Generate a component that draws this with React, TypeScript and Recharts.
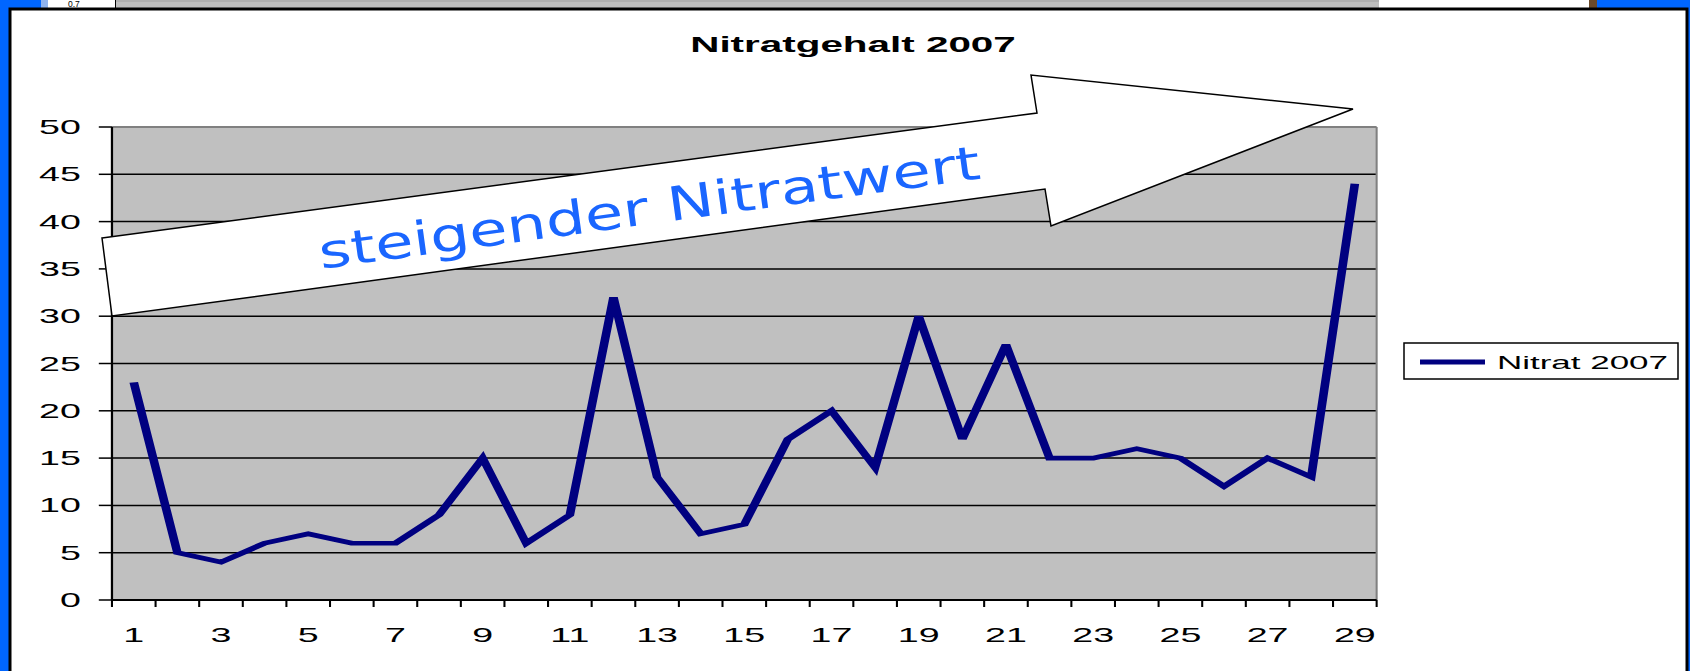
import React from 'react';
import { LineChart, Line, XAxis, YAxis, CartesianGrid, ReferenceLine } from 'recharts';

// ---- data ----
const messpunkte = [1, 2, 3, 4, 5, 6, 7, 8, 9, 10, 11, 12, 13, 14, 15, 16, 17, 18, 19, 20, 21, 22, 23, 24, 25, 26, 27, 28, 29];
const nitrat2007 = [23, 5, 4, 6, 7, 6, 6, 9, 15, 6, 9, 32, 13, 7, 8, 17, 20, 14, 30, 17, 27, 15, 15, 16, 15, 12, 15, 13, 44];
const yTicks = [0, 5, 10, 15, 20, 25, 30, 35, 40, 45, 50];
const gridValues = [5, 10, 15, 20, 25, 30, 35, 40, 45];
const xLabelTicks = [1, 3, 5, 7, 9, 11, 13, 15, 17, 19, 21, 23, 25, 27, 29];
const seriesName = 'Nitrat 2007';
const chartTitle = 'Nitratgehalt 2007';
const arrowText = 'steigender Nitratwert';
const topStripLabel = '0.7';

const data = messpunkte.map((m, i) => ({ m, nitrat: nitrat2007[i] }));
// category boundaries (Excel puts tick marks between categories)
const xTickMarks = [...messpunkte.map((m) => m - 0.5), messpunkte[messpunkte.length - 1] + 0.5];
const xDomain: [number, number] = [messpunkte[0] - 0.5, messpunkte[messpunkte.length - 1] + 0.5];

const S = 1.88; // horizontal stretch of the original picture
const FONT = 'Arial, "Liberation Sans", sans-serif';

const EmptyTick = () => <g />;

export default function App() {
  return (
    <div style={{ position: 'absolute', left: 0, top: 0, width: 1690, height: 671, overflow: 'hidden' }}>
      {/* background frame */}
      <svg width={1690} height={671} style={{ position: 'absolute', left: 0, top: 0 }}>
        <rect x={0} y={0} width={1690} height={671} fill="#0066FF" />
        <rect x={41} y={0} width={7} height={9} fill="#8FB3EE" />
        <rect x={48} y={0} width={68} height={9} fill="#FFFFFF" />
        <line x1={115.5} y1={0} x2={115.5} y2={9} stroke="#000" strokeWidth={1} />
        <text x={68} y={7} fontSize={8.5} fontFamily={FONT} fill="#000">{topStripLabel}</text>
        <rect x={116} y={0} width={1263} height={9} fill="#BEBEBE" />
        <line x1={116} y1={1} x2={1379} y2={1} stroke="#A0A0A0" strokeWidth={1} />
        <rect x={1379} y={0} width={210} height={9} fill="#FFFFFF" />
        <rect x={1589} y={0} width={8} height={9} fill="#6B4A2A" />
        <rect x={10} y={9} width={1677} height={700} fill="#FFFFFF" stroke="#000" strokeWidth={3} />
      </svg>

      {/* chart, stretched horizontally like the original */}
      <div
        style={{
          position: 'absolute',
          left: 8,
          top: 8,
          width: 894,
          height: 663,
          transform: `scaleX(${S})`,
          transformOrigin: '0 0',
        }}
      >
        <LineChart width={894} height={663} data={data} margin={{ top: 119, right: 166, bottom: 30, left: 0 }}>
          <CartesianGrid
            xAxisId="b"
            vertical={false}
            fill="#C0C0C0"
            stroke="#000"
            strokeWidth={1.5}
            horizontalValues={gridValues}
          />
          <XAxis
            xAxisId="b"
            type="number"
            dataKey="m"
            domain={xDomain}
            ticks={xLabelTicks}
            interval={0}
            tickLine={false}
            axisLine={false}
            tickSize={0}
            tickMargin={27}
            height={40}
            tick={{ fill: '#000', fontSize: 20, fontFamily: FONT }}
          />
          <XAxis
            xAxisId="a"
            type="number"
            dataKey="m"
            domain={xDomain}
            ticks={xTickMarks}
            interval={0}
            tick={EmptyTick}
            tickSize={7}
            height={1}
            axisLine={{ stroke: '#000', strokeWidth: 2 }}
            tickLine={{ stroke: '#000', strokeWidth: 1.1 }}
          />
          <YAxis
            type="number"
            domain={[0, 50]}
            ticks={yTicks}
            interval={0}
            width={55.3}
            tickSize={7}
            tickMargin={9.5}
            axisLine={{ stroke: '#000', strokeWidth: 1.2 }}
            tickLine={{ stroke: '#000', strokeWidth: 1.5 }}
            tick={{ fill: '#000', fontSize: 20, fontFamily: FONT }}
          />
          <ReferenceLine xAxisId="b" y={50} stroke="#808080" strokeWidth={2} />
          <ReferenceLine xAxisId="b" x={xDomain[1]} stroke="#808080" strokeWidth={1.1} />
          <Line
            xAxisId="b"
            type="linear"
            dataKey="nitrat"
            name={seriesName}
            stroke="#000080"
            strokeWidth={4.6}
            dot={false}
            activeDot={false}
            isAnimationActive={false}
          />
        </LineChart>
      </div>

      {/* overlay: title, legend, arrow annotation */}
      <svg width={1690} height={671} style={{ position: 'absolute', left: 0, top: 0, pointerEvents: 'none' }}>
        <text
          transform={`translate(853,52) scale(${S},1)`}
          textAnchor="middle"
          fontSize={21.5}
          fontWeight="bold"
          fontFamily={FONT}
          fill="#000"
        >
          {chartTitle}
        </text>

        <rect x={1404} y={343} width={274} height={36} fill="#FFFFFF" stroke="#000" strokeWidth={1.5} />
        <line x1={1420} y1={362} x2={1485} y2={362} stroke="#000080" strokeWidth={5} />
        <text transform={`translate(1497,369) scale(${S},1)`} fontSize={18.6} fontFamily={FONT} fill="#000">
          {seriesName}
        </text>

        <polygon
          points="102,238 1037,113 1031,75 1353,109 1051,226 1045,189 112,316"
          fill="#FFFFFF"
          stroke="#000"
          strokeWidth={1.5}
          strokeLinejoin="miter"
        />
        <text
          transform="translate(321,269) rotate(-7.8)"
          fontSize={47}
          textLength={667}
          lengthAdjust="spacingAndGlyphs"
          fontFamily={'"Comic Sans MS", "DejaVu Sans", sans-serif'}
          fill="#1A66FF"
        >
          {arrowText}
        </text>
      </svg>
    </div>
  );
}
